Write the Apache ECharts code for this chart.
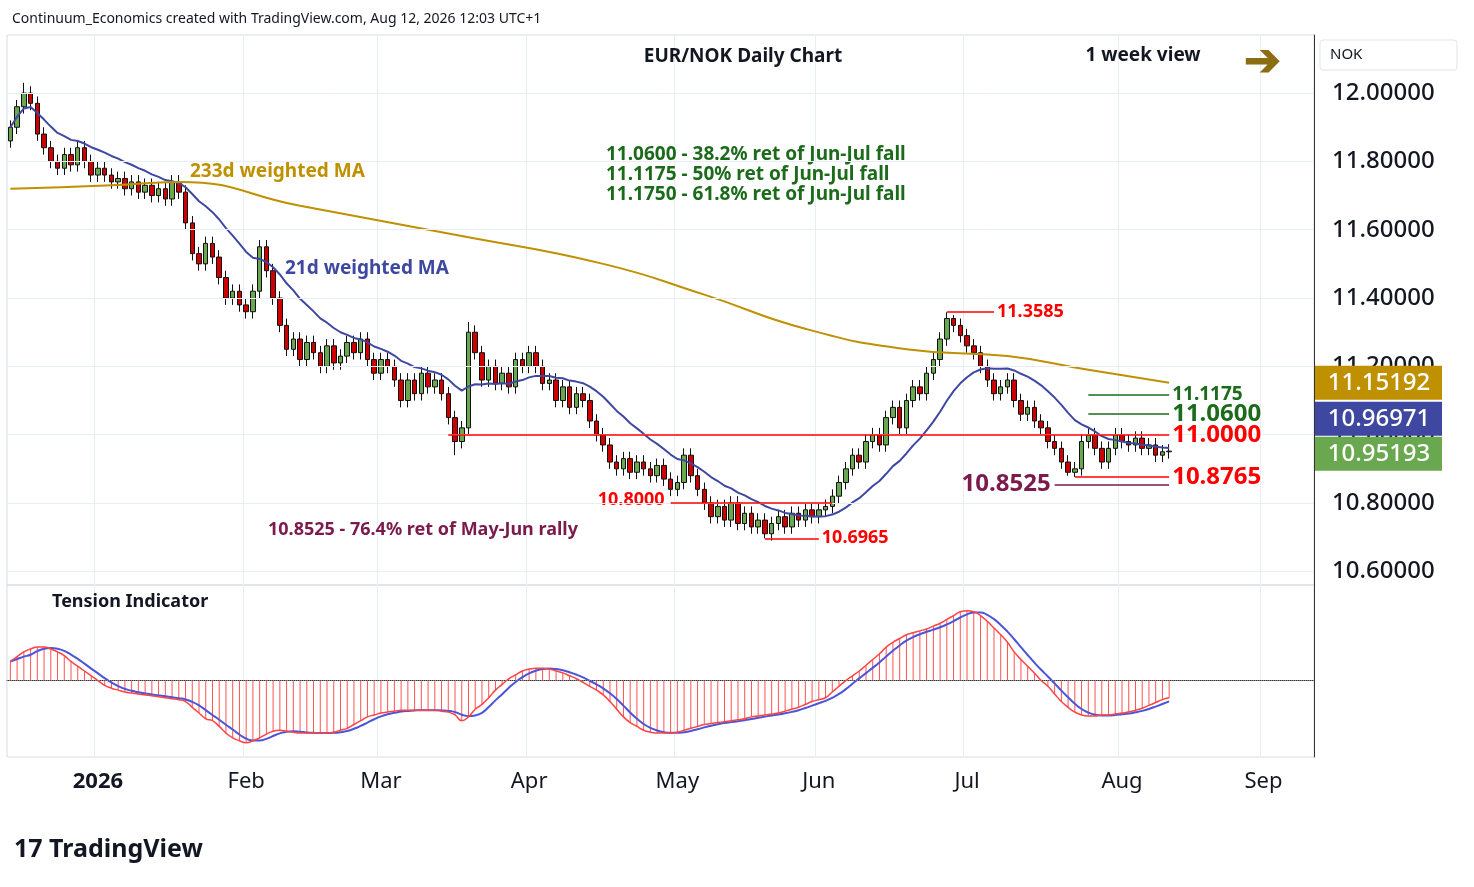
<!DOCTYPE html>
<html><head><meta charset="utf-8">
<script src="https://cdn.jsdelivr.net/npm/echarts@6/dist/echarts.min.js"></script>
<style>html,body{margin:0;background:#fff}#c{width:1474px;height:887px}</style>
</head><body><div id="c"></div>
<script>
// closes, one per trading day from 15 Dec 2025 to 12 Aug 2026
const closes = [
  11.90,11.96,12.00,11.97,11.88,11.84,11.80,11.78,11.82,11.79,11.84,11.80,11.76,
  11.78,11.76,11.74,11.75,11.72,11.74,11.71,11.73,11.70,11.72,11.69,11.74,11.71,
  11.62,11.53,11.50,11.56,11.52,11.46,11.40,11.42,11.38,11.36,11.42,11.55,11.48,11.40,11.32,
  11.25,11.28,11.22,11.27,11.24,11.20,11.26,11.21,11.23,11.27,11.24,11.28,11.22,11.18,11.22,
  11.20,11.16,11.10,11.16,11.12,11.18,11.14,11.16,11.12,11.05,10.98,11.02,
  11.30,11.24,11.16,11.20,11.15,11.18,11.14,11.22,11.20,11.24,11.20,11.15,
  11.16,11.10,11.14,11.08,11.12,11.10,11.04,11.00,10.97,10.92,
  10.90,10.93,10.89,10.92,10.90,10.88,10.91,10.87,10.84,10.86,10.94,10.88,
  10.84,10.80,10.76,10.79,10.75,10.80,10.74,10.77,10.73,10.75,10.71,10.74,
  10.76,10.73,10.77,10.75,10.78,10.76,10.78,10.79,10.82,10.86,10.90,
  10.94,10.92,10.98,11.00,10.97,11.05,11.08,11.02,11.10,11.14,11.12,11.18,11.22,
  11.28,11.34,11.32,11.29,11.26,11.24,11.20,11.16,11.12,11.14,11.16,11.10,
  11.06,11.08,11.04,11.02,10.98,10.96,10.92,10.89,10.90,10.98,11.00,
  10.96,10.92,10.96,11.00,10.98,10.97,10.99,10.96,10.97,10.94,10.95,10.952
];
const firstOpen = 11.86;
// notable wick extremes
const highMarks = {2:12.03, 37:11.57, 68:11.33, 139:11.3585, 140:11.35};
const lowMarks = {66:10.94, 112:10.6965, 158:10.8765, 157:10.88};
// 233d weighted MA, [bar index, value]
const ma233 = [[0,11.72],[15,11.73],[25,11.74],[43,11.67],[66,11.585],[88,11.50],[103,11.41],[118,11.31],[133,11.25],[148,11.23],[160,11.19],[172,11.152]];
// Tension indicator, one per bar
const tension = [
  20,25,30,33,35,35,33,30,26,20, 15,10,5,0,-5,-8,-10,-12,-13,-14,
  -15,-16,-17,-18,-19,-20,-22,-28,-34,-40, -42,-48,-55,-60,-63,-65,-63,-60,-56,-53,
  -52,-53,-54,-55,-55,-55,-55,-55,-54,-52, -50,-46,-42,-38,-36,-34,-33,-32,-31,-31,
  -31,-31,-31,-31,-32,-33,-36,-42,-38,-30, -25,-18,-10,-4,2,6,10,12,13,13,
  12,10,8,5,2,-2,-6,-10,-15,-22, -30,-38,-44,-48,-52,-54,-55,-55,-55,-54,
  -52,-50,-48,-46,-45,-44,-43,-42,-41,-40, -38,-37,-36,-35,-34,-32,-30,-28,-25,-22,
  -20,-18,-12,-6,0,5,10,16,22,28, 35,40,44,48,50,52,54,57,60,64,
  68,72,73,72,68,62,55,48,40,30, 22,15,8,0,-6,-14,-22,-28,-33,-36,
  -37,-37,-36,-36,-35,-34,-33,-31,-29,-26,-23,-20,-18
];
const priceTicks = [10.6, 10.8, 11.0, 11.2, 11.4, 11.6, 11.8, 12.0];
const monthLabels = {13:'2026', 35:'Feb', 55:'Mar', 77:'Apr', 99:'May', 120:'Jun', 142:'Jul', 165:'Aug', 186:'Sep'};
const totalBars = 194;

const cats = [];
for (let i = 0; i < totalBars; i++) cats.push(i);
const candles = closes.map((c, i) => {
  const o = i === 0 ? firstOpen : closes[i - 1];
  const hi = highMarks[i] !== undefined ? highMarks[i] : Math.max(o, c) + 0.02;
  const lo = lowMarks[i] !== undefined ? lowMarks[i] : Math.min(o, c) - 0.02;
  return [o, c, lo, hi];
});
// 21d weighted MA from the closes
const ma21 = closes.map((c, i) => {
  let s = 0, w = 0;
  for (let k = 0; k < 21 && i - k >= 0; k++) { s += closes[i - k] * (21 - k); w += 21 - k; }
  return +(s / w).toFixed(4);
});
const tensionSlow = tension.map((v, i) => {
  const a = tension.slice(Math.max(0, i - 3), i + 1);
  return a.reduce((x, y) => x + y, 0) / a.length;
});

const red = '#ff0000', dgreen = '#1b6b1b', maroon = '#7b1a4b';
function hline(y, x0, x1, color, text, pos, fs) {
  return [{coord: [x0, y], lineStyle: {color: color, width: 1.5, type: 'solid'},
    label: {show: !!text, formatter: text || '', position: pos || 'end', color: color, fontSize: fs || 20, fontWeight: 'bold', distance: 3}},
    {coord: [x1, y]}];
}
const isMonth = (i) => monthLabels[i] !== undefined;
const chart = echarts.init(document.getElementById('c'));
chart.setOption({
  animation: false,
  textStyle: {fontFamily: 'Noto Sans'},
  grid: [
    {left: 7, right: 160, top: 35, height: 550, show: true, borderColor: '#d6dce3'},
    {left: 7, right: 160, top: 585, height: 172, show: true, borderColor: '#d6dce3'}
  ],
  xAxis: [
    {type: 'category', data: cats, gridIndex: 0, axisLabel: {show: false}, axisTick: {show: false}, axisLine: {show: false},
      splitLine: {show: true, interval: isMonth, lineStyle: {color: '#e8eef4'}}},
    {type: 'category', data: cats, gridIndex: 1, axisTick: {show: false}, axisLine: {lineStyle: {color: '#333'}},
      splitLine: {show: true, interval: isMonth, lineStyle: {color: '#e8eef4'}},
      axisLabel: {interval: isMonth, margin: 14, color: '#131722', fontSize: 22,
        formatter: (v) => v == 13 ? '{b|2026}' : (monthLabels[v] || ''),
        rich: {b: {fontWeight: 'bold', fontSize: 22, color: '#131722'}}}}
  ],
  yAxis: [
    {type: 'value', gridIndex: 0, position: 'right', min: 10.56, max: 12.17,
      axisLine: {show: true, lineStyle: {color: '#333'}}, axisTick: {show: false}, splitLine: {show: false},
      axisLabel: {customValues: priceTicks, margin: 18, color: '#131722', fontSize: 24, fontWeight: 500, formatter: (v) => v.toFixed(5)}},
    {type: 'value', gridIndex: 1, position: 'right', min: -80, max: 100,
      axisLine: {show: true, lineStyle: {color: '#333'}}, axisLabel: {show: false}, axisTick: {show: false},
      splitLine: {show: false}}
  ],
  series: [
    {type: 'candlestick', data: candles, xAxisIndex: 0, yAxisIndex: 0, barWidth: 5,
      itemStyle: {color: '#6aa84f', color0: '#cc0000', borderColor: '#111', borderColor0: '#111', borderWidth: 1},
      markLine: {symbol: 'none', silent: true, data: [
        ...priceTicks.map(p => ({yAxis: p, label: {show: false}, lineStyle: {color: '#e8eef4', width: 1, type: 'solid'}})),
        hline(11.0, 65, 172, red, '11.0000', 'end', 24),
        hline(11.1175, 160, 172, dgreen, '11.1175', 'end', 19),
        hline(11.06, 160, 172, dgreen, '11.0600', 'end', 24),
        hline(10.8765, 158, 172, red, '10.8765', 'end', 24),
        hline(10.8525, 155, 172, maroon, '', 'end'),
        hline(11.3585, 139, 146, red, '11.3585', 'end', 18),
        hline(10.80, 98, 122, red, '', 'end'),
        hline(10.6965, 112, 120, red, '10.6965', 'end', 18)
      ]}},
    {type: 'line', data: ma21, xAxisIndex: 0, yAxisIndex: 0, showSymbol: false, lineStyle: {color: '#3f48a0', width: 2}, z: 3},
    {type: 'line', data: ma233, xAxisIndex: 0, yAxisIndex: 0, showSymbol: false, smooth: true, lineStyle: {color: '#bf9000', width: 2}, z: 3},
    {type: 'bar', data: tension, xAxisIndex: 1, yAxisIndex: 1, barWidth: 1, itemStyle: {color: '#ff5252'},
      markLine: {symbol: 'none', silent: true, label: {show: false}, lineStyle: {color: '#888', type: 'dotted', width: 1}, data: [{yAxis: 0}]}},
    {type: 'line', data: tensionSlow, xAxisIndex: 1, yAxisIndex: 1, showSymbol: false, smooth: true, lineStyle: {color: '#4a55d8', width: 2}},
    {type: 'line', data: tension, xAxisIndex: 1, yAxisIndex: 1, showSymbol: false, smooth: true, lineStyle: {color: '#ff4444', width: 1.5}}
  ]
});

// price tags on the right axis, stacked like TradingView does
function tag(val, bg, y) {
  return {type: 'group', z: 100, children: [
    {type: 'rect', z: 100, shape: {x: 1315, y: y - 17, width: 127, height: 34}, style: {fill: bg}},
    {type: 'text', z: 101, x: 1379, y: y, style: {text: val.toFixed(5), fill: '#fff', fontSize: 24, fontWeight: 500, align: 'center', verticalAlign: 'middle', fontFamily: 'Noto Sans'}}
  ]};
}
const yTag1 = chart.convertToPixel({yAxisIndex: 0}, 11.15192);
const yTag2 = yTag1 + 36;
const yTag3 = yTag2 + 35;
const t = (x, y, text, color, fs, fw, align) => ({type: 'text', x: x, y: y,
  style: {text: text, fill: color, fontSize: fs, fontWeight: fw || 'normal', align: align || 'left', verticalAlign: 'middle', fontFamily: 'Noto Sans'}});
const x8525 = chart.convertToPixel({xAxisIndex: 0}, 155);
const y8525 = chart.convertToPixel({yAxisIndex: 0}, 10.8525);
const x80 = chart.convertToPixel({xAxisIndex: 0}, 98);
const y80 = chart.convertToPixel({yAxisIndex: 0}, 10.80);
chart.setOption({graphic: [
  tag(11.15192, '#bf9000', yTag1), tag(10.96971, '#3f48a0', yTag2), tag(10.95193, '#6aa84f', yTag3),
  {type: 'rect', shape: {x: 1320, y: 40, width: 137, height: 30, r: 3}, style: {fill: '#fff', stroke: '#e0e3eb'}},
  t(1330, 55, 'NOK', '#131722', 15),
  t(12, 19, 'Continuum_Economics created with TradingView.com, Aug 12, 2026 12:03 UTC+1', '#131722', 14),
  t(743, 57, 'EUR/NOK Daily Chart', '#131722', 19, 'bold', 'center'),
  t(1143, 56, '1 week view', '#131722', 19, 'bold', 'center'),
  t(1244, 62, '➔', '#8b6d12', 44, 'bold'),
  t(606, 155, '11.0600 - 38.2% ret of Jun-Jul fall', dgreen, 19, 'bold'),
  t(606, 175, '11.1175 - 50% ret of Jun-Jul fall', dgreen, 19, 'bold'),
  t(606, 195, '11.1750 - 61.8% ret of Jun-Jul fall', dgreen, 19, 'bold'),
  t(190, 172, '233d weighted MA', '#bf9000', 19, 'bold'),
  t(285, 269, '21d weighted MA', '#3f48a0', 19, 'bold'),
  t(268, 530, '10.8525 - 76.4% ret of May-Jun rally', maroon, 18, 'bold'),
  t(x8525 - 4, y8525 - 1, '10.8525', maroon, 24, 'bold', 'right'),
  t(x80 - 6, y80 - 3, '10.8000', red, 18, 'bold', 'right'),
  t(52, 602, 'Tension Indicator', '#131722', 18, 'bold'),
  t(14, 850, '17 TradingView', '#131722', 25, 'bold')
]});
</script></body></html>
